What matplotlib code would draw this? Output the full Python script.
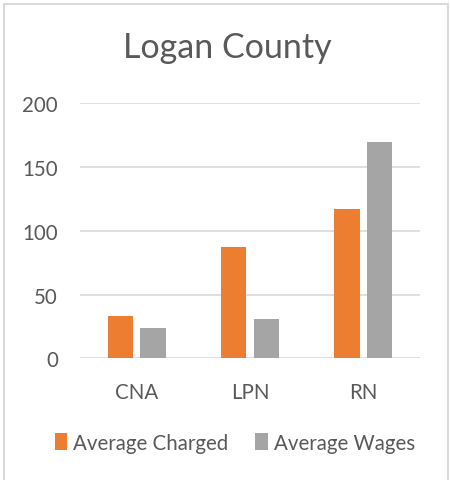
import numpy as np
import matplotlib
matplotlib.use("Agg")
import matplotlib.pyplot as plt
from matplotlib.patches import Rectangle

categories = ['CNA', 'LPN', 'RN']
avg_charged = [33.5, 87, 116.5]
avg_wages = [24, 31, 169]
yticks = [0, 50, 100, 150, 200]

orange = '#ED7D31'
gray = '#A5A5A5'
txt = '#595959'
grid = '#D9D9D9'

plt.rcParams['font.family'] = ['Lato', 'DejaVu Sans']

fig = plt.figure(figsize=(4.5, 4.81), dpi=100)
ax = fig.add_axes([0.178, 0.2526, 0.755, 0.532])

x = np.arange(len(categories))
w = 0.223
ax.bar(x - 0.143, avg_charged, w, color=orange, label='Average Charged', zorder=3)
ax.bar(x + 0.143, avg_wages, w, color=gray, label='Average Wages', zorder=3)

ax.set_xlim(-0.5, 2.5)
ax.set_ylim(0, 200)
ax.set_yticks(yticks)
ax.set_xticks(x)
ax.set_xticklabels(categories)
ax.tick_params(axis='both', length=0, labelsize=14.8, colors=txt)
ax.tick_params(axis='y', pad=16)
ax.tick_params(axis='x', pad=17)
for s in ax.spines.values():
    s.set_visible(False)
ax.yaxis.grid(True, color=grid, linewidth=1.2, zorder=0)
ax.set_axisbelow(True)

fig.text(0.505, 1 - 48 / 481, 'Logan County', ha='center', va='center',
         fontsize=24.5, color=txt)

leg = fig.legend(loc='center', bbox_to_anchor=(0.522, 1 - 444 / 481), ncol=2,
                 frameon=False, fontsize=14.8, handlelength=0.6, handleheight=0.9,
                 handletextpad=0.3, columnspacing=1.3, labelcolor=txt)

fig.patches.append(Rectangle((3.5 / 450, -0.1), 444.5 / 450, 1.1 - 4.5 / 481,
                             transform=fig.transFigure, fill=False,
                             edgecolor=grid, linewidth=1.5))

fig.savefig('out.png', dpi=100)
